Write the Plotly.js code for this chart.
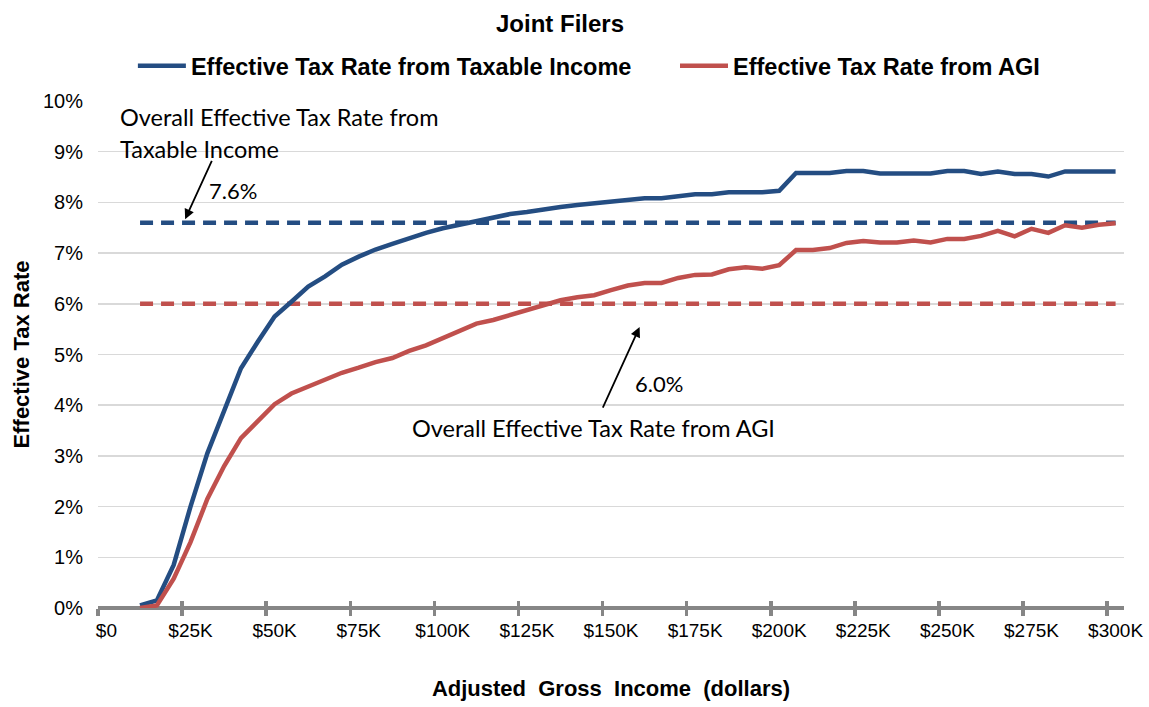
<!DOCTYPE html>
<html>
<head>
<meta charset="utf-8">
<script src="https://cdn.plot.ly/plotly-3.0.1.min.js"></script>
<style>html,body{margin:0;padding:0;background:#fff;}#chart{width:1149px;height:707px;}</style>
</head>
<body>
<div id="chart"></div>
<script>
// Adjusted gross income (thousands of dollars)
var incomes = [10,15,20,25,30,35,40,45,50,55,60,65,70,75,80,85,90,95,100,105,110,115,120,125,130,135,140,145,150,155,160,165,170,175,180,185,190,195,200,205,210,215,220,225,230,235,240,245,250,255,260,265,270,275,280,285,290,295,300];
// Effective tax rate (%) from taxable income
var rateTaxable = [0.05,0.15,0.85,2.0,3.05,3.9,4.73,5.25,5.75,6.04,6.34,6.54,6.77,6.93,7.07,7.18,7.3,7.4,7.49,7.56,7.62,7.7,7.77,7.81,7.87,7.91,7.95,7.98,8.01,8.05,8.08,8.08,8.12,8.16,8.16,8.2,8.2,8.2,8.23,8.58,8.58,8.58,8.62,8.62,8.57,8.57,8.57,8.57,8.62,8.62,8.56,8.61,8.56,8.56,8.51,8.61,8.61,8.61,8.61];
// Effective tax rate (%) from AGI
var rateAGI = [0.0,0.05,0.58,1.3,2.15,2.8,3.35,3.7,4.02,4.23,4.37,4.5,4.64,4.74,4.85,4.93,5.07,5.18,5.33,5.47,5.61,5.68,5.78,5.89,5.99,6.07,6.13,6.17,6.27,6.36,6.41,6.41,6.51,6.57,6.58,6.68,6.72,6.69,6.76,7.06,7.06,7.1,7.2,7.24,7.21,7.21,7.25,7.21,7.28,7.28,7.34,7.44,7.33,7.48,7.4,7.55,7.5,7.56,7.59];
// Overall effective rates (%)
var overallTaxable = 7.6;
var overallAGI = 6.0;
// Axis ticks
var xTickVals = [0,25,50,75,100,125,150,175,200,225,250,275,300];
var xTickText = ['$0','$25K','$50K','$75K','$100K','$125K','$150K','$175K','$200K','$225K','$250K','$275K','$300K'];
var xTickMarks = [-2.5,22.5,47.5,72.5,97.5,122.5,147.5,172.5,197.5,222.5,247.5,272.5,297.5];
var yTickVals = [0,1,2,3,4,5,6,7,8,9,10];
var yTickText = ['0%','1%','2%','3%','4%','5%','6%','7%','8%','9%','10%'];

var BLUE = '#244D82', RED = '#C0504D', AXIS = '#868686';
var ARIAL = 'Liberation Sans, Arial, sans-serif';
var CAL = 'Lato, Carlito, Calibri, sans-serif';

var traces = [
  {x: incomes, y: incomes.map(function(){return overallTaxable;}), mode:'lines', showlegend:false, hoverinfo:'skip',
   line:{color:BLUE, width:4.5, dash:'13px,8px'}},
  {x: incomes, y: incomes.map(function(){return overallAGI;}), mode:'lines', showlegend:false, hoverinfo:'skip',
   line:{color:RED, width:4.5, dash:'13px,8px'}},
  {x: incomes, y: rateTaxable, mode:'lines', name:'Effective Tax Rate from Taxable Income',
   line:{color:BLUE, width:4.5}, legend:'legend'},
  {x: incomes, y: rateAGI, mode:'lines', name:'Effective Tax Rate from AGI',
   line:{color:RED, width:4.5}, legend:'legend2'},
  // invisible traces to carry tick-mark axes
  {x:[0], y:[0], xaxis:'x2', mode:'markers', marker:{opacity:0}, showlegend:false, hoverinfo:'skip'},
  {x:[0], y:[0], xaxis:'x3', mode:'markers', marker:{opacity:0}, showlegend:false, hoverinfo:'skip'}
];

var legendFont = {family:ARIAL, size:23.5, color:'#000', weight:'bold'};
var layout = {
  width:1149, height:707,
  margin:{l:98, r:25, t:101, b:99, autoexpand:false},
  paper_bgcolor:'#fff', plot_bgcolor:'#fff',
  title:{text:'<b>Joint Filers</b>', font:{family:ARIAL, size:24, color:'#000'},
         x:560/1149, xref:'container', xanchor:'center', y:1-24/707, yanchor:'middle'},
  showlegend:true,
  legend:{orientation:'h', x:0.034, xanchor:'left', y:1+(101-66)/507, yanchor:'middle',
          font:legendFont, itemwidth:48, bgcolor:'rgba(0,0,0,0)'},
  legend2:{orientation:'h', x:(675-98)/1026, xanchor:'left', y:1+(101-66)/507, yanchor:'middle',
          font:legendFont, itemwidth:48, bgcolor:'rgba(0,0,0,0)'},
  xaxis:{range:[-2.5,302.5], tickvals:xTickVals, ticktext:xTickText, ticks:'', showgrid:false, zeroline:false,
         showline:false, tickfont:{family:'Liberation Sans Narrow, Arial Narrow, Liberation Sans, Arial', size:19, color:'#000'},
         ticklabelstandoff:9,
         title:{text:'<b>Adjusted  Gross  Income  (dollars)</b>', font:{family:ARIAL, size:22, color:'#000'}, standoff:40},
         fixedrange:true},
  xaxis2:{overlaying:'x', anchor:'y', range:[-2.5,302.5], tickvals:xTickMarks, showticklabels:false, ticks:'outside',
          ticklen:7, tickwidth:3.5, tickcolor:AXIS, showgrid:false, zeroline:false, showline:false},
  xaxis3:{overlaying:'x', anchor:'y', range:[-2.5,302.5], tickvals:xTickMarks, showticklabels:false, ticks:'inside',
          ticklen:7, tickwidth:3.5, tickcolor:AXIS, showgrid:false, zeroline:false, showline:false},
  yaxis:{range:[0,10], tickvals:yTickVals, ticktext:yTickText, ticks:'', showgrid:true, gridcolor:'#D9D9D9', gridwidth:1.5,
         zeroline:true, zerolinecolor:AXIS, zerolinewidth:4, showline:false,
         tickfont:{family:ARIAL, size:20, color:'#000'}, ticklabelstandoff:14,
         title:{text:'<b>Effective Tax Rate</b>', font:{family:ARIAL, size:22, color:'#000'}, standoff:7},
         fixedrange:true},
  annotations:[
    {xref:'x', yref:'y', x:3.3, y:(608.3-117)/50.75, xanchor:'left', yanchor:'middle', showarrow:false,
     text:'Overall Effective Tax Rate from', font:{family:CAL, size:23.5, color:'#000'}},
    {xref:'x', yref:'y', x:3.3, y:(608.3-149)/50.75, xanchor:'left', yanchor:'middle', showarrow:false,
     text:'Taxable Income', font:{family:CAL, size:23.5, color:'#000'}},
    {xref:'x', yref:'y', x:29.8, y:(608.3-190)/50.75, xanchor:'left', yanchor:'middle', showarrow:false,
     text:'7.6%', font:{family:CAL, size:22, color:'#000'}},
    {xref:'x', yref:'y', x:23.4, y:overallTaxable+0.07, axref:'x', ayref:'y', ax:31.4, ay:8.83, showarrow:true, text:'',
     font:{size:1}, borderpad:0,
     arrowhead:2, arrowsize:1.1, arrowwidth:1.8, arrowcolor:'#000', standoff:0, startstandoff:0},
    {xref:'x', yref:'y', x:156.5, y:(608.3-384)/50.75, xanchor:'left', yanchor:'middle', showarrow:false,
     text:'6.0%', font:{family:CAL, size:22, color:'#000'}},
    {xref:'x', yref:'y', x:90.2, y:(608.3-428)/50.75, xanchor:'left', yanchor:'middle', showarrow:false,
     text:'Overall Effective Tax Rate from AGI', font:{family:CAL, size:23.5, color:'#000'}},
    {xref:'x', yref:'y', x:158.5, y:5.54, ax:-37, ay:81, showarrow:true, text:'',
     font:{size:1}, borderpad:0,
     arrowhead:2, arrowsize:1.1, arrowwidth:1.8, arrowcolor:'#000', standoff:0, startstandoff:0}
  ]
};

Plotly.newPlot('chart', traces, layout, {displayModeBar:false, staticPlot:true});
</script>
</body>
</html>
